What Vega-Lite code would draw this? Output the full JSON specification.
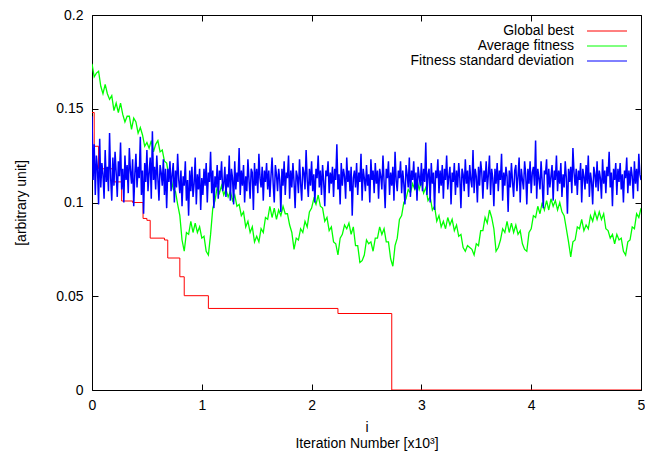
{
"$schema":"https://vega.github.io/schema/vega-lite/v6.json",
"width":549,"height":375,
"autosize":{"type":"none"},
"padding":{"left":92,"top":15,"right":4,"bottom":65},
"background":"white",
"config":{
 "view":{"stroke":"black","strokeWidth":1},
 "axis":{"domain":false,"grid":false,"tickColor":"black","tickWidth":1,"tickSize":-6,"labelFont":"Liberation Sans","labelFontSize":14,"labelColor":"black","titleFont":"Liberation Sans","titleFontSize":14,"titleFontWeight":"normal","titleColor":"black"},
 "legend":{"padding":0,"rowPadding":1,"symbolType":"M-4,0H4","symbolSize":100,"symbolStrokeWidth":1,"symbolOffset":200,"labelOffset":-40,"labelAlign":"right","labelFont":"Liberation Sans","labelFontSize":14,"labelColor":"black","labelLimit":0}
},
"datasets":{
"best":[{"x":0,"y":0.148},{"x":0.02,"y":0.130},{"x":0.06,"y":0.118},{"x":0.20,"y":0.111},{"x":0.27,"y":0.1008},{"x":0.37,"y":0.1000},{"x":0.465,"y":0.0915},{"x":0.50,"y":0.0905},{"x":0.53,"y":0.081},{"x":0.66,"y":0.080},{"x":0.69,"y":0.0704},{"x":0.80,"y":0.0604},{"x":0.84,"y":0.0503},{"x":1.06,"y":0.0435},{"x":2.24,"y":0.0408},{"x":2.73,"y":0},{"x":5,"y":0}],
"avg":[{"x":0,"g":0.174},{"x":0.02,"g":0.167},{"x":0.04,"g":0.169},{"x":0.06,"g":0.170},{"x":0.08,"g":0.162},{"x":0.10,"g":0.158},{"x":0.12,"g":0.163},{"x":0.14,"g":0.158},{"x":0.16,"g":0.155},{"x":0.18,"g":0.157},{"x":0.20,"g":0.149},{"x":0.22,"g":0.153},{"x":0.24,"g":0.148},{"x":0.26,"g":0.153},{"x":0.28,"g":0.147},{"x":0.30,"g":0.143},{"x":0.32,"g":0.146},{"x":0.34,"g":0.146},{"x":0.36,"g":0.139},{"x":0.38,"g":0.145},{"x":0.40,"g":0.143},{"x":0.42,"g":0.137},{"x":0.44,"g":0.140},{"x":0.46,"g":0.136},{"x":0.48,"g":0.130},{"x":0.50,"g":0.132},{"x":0.52,"g":0.129},{"x":0.54,"g":0.133},{"x":0.56,"g":0.127},{"x":0.58,"g":0.131},{"x":0.60,"g":0.133},{"x":0.62,"g":0.127},{"x":0.64,"g":0.128},{"x":0.66,"g":0.122},{"x":0.68,"g":0.121},{"x":0.70,"g":0.114},{"x":0.72,"g":0.113},{"x":0.74,"g":0.107},{"x":0.76,"g":0.106},{"x":0.78,"g":0.099},{"x":0.80,"g":0.093},{"x":0.82,"g":0.080},{"x":0.84,"g":0.074},{"x":0.86,"g":0.084},{"x":0.88,"g":0.083},{"x":0.90,"g":0.090},{"x":0.92,"g":0.084},{"x":0.94,"g":0.089},{"x":0.96,"g":0.084},{"x":0.98,"g":0.087},{"x":1.00,"g":0.081},{"x":1.02,"g":0.082},{"x":1.04,"g":0.074},{"x":1.06,"g":0.072},{"x":1.08,"g":0.083},{"x":1.10,"g":0.097},{"x":1.12,"g":0.101},{"x":1.14,"g":0.108},{"x":1.16,"g":0.105},{"x":1.18,"g":0.109},{"x":1.20,"g":0.104},{"x":1.22,"g":0.107},{"x":1.24,"g":0.103},{"x":1.26,"g":0.106},{"x":1.28,"g":0.101},{"x":1.30,"g":0.104},{"x":1.32,"g":0.098},{"x":1.34,"g":0.099},{"x":1.36,"g":0.093},{"x":1.38,"g":0.095},{"x":1.40,"g":0.087},{"x":1.42,"g":0.090},{"x":1.44,"g":0.084},{"x":1.46,"g":0.087},{"x":1.48,"g":0.079},{"x":1.50,"g":0.082},{"x":1.52,"g":0.079},{"x":1.54,"g":0.086},{"x":1.56,"g":0.084},{"x":1.58,"g":0.092},{"x":1.60,"g":0.091},{"x":1.62,"g":0.098},{"x":1.64,"g":0.092},{"x":1.66,"g":0.097},{"x":1.68,"g":0.091},{"x":1.70,"g":0.096},{"x":1.72,"g":0.093},{"x":1.74,"g":0.098},{"x":1.76,"g":0.094},{"x":1.78,"g":0.094},{"x":1.80,"g":0.088},{"x":1.82,"g":0.084},{"x":1.84,"g":0.075},{"x":1.86,"g":0.081},{"x":1.88,"g":0.080},{"x":1.90,"g":0.086},{"x":1.92,"g":0.084},{"x":1.94,"g":0.090},{"x":1.96,"g":0.087},{"x":1.98,"g":0.095},{"x":2.00,"g":0.097},{"x":2.02,"g":0.102},{"x":2.04,"g":0.099},{"x":2.06,"g":0.104},{"x":2.08,"g":0.098},{"x":2.10,"g":0.097},{"x":2.12,"g":0.090},{"x":2.14,"g":0.092},{"x":2.16,"g":0.085},{"x":2.18,"g":0.087},{"x":2.20,"g":0.079},{"x":2.22,"g":0.078},{"x":2.24,"g":0.072},{"x":2.26,"g":0.081},{"x":2.28,"g":0.083},{"x":2.30,"g":0.088},{"x":2.32,"g":0.086},{"x":2.34,"g":0.089},{"x":2.36,"g":0.083},{"x":2.38,"g":0.087},{"x":2.40,"g":0.077},{"x":2.42,"g":0.077},{"x":2.44,"g":0.068},{"x":2.46,"g":0.069},{"x":2.48,"g":0.072},{"x":2.50,"g":0.080},{"x":2.52,"g":0.078},{"x":2.54,"g":0.079},{"x":2.56,"g":0.074},{"x":2.58,"g":0.081},{"x":2.60,"g":0.081},{"x":2.62,"g":0.087},{"x":2.64,"g":0.083},{"x":2.66,"g":0.086},{"x":2.68,"g":0.079},{"x":2.70,"g":0.079},{"x":2.72,"g":0.070},{"x":2.74,"g":0.066},{"x":2.76,"g":0.077},{"x":2.78,"g":0.081},{"x":2.80,"g":0.091},{"x":2.82,"g":0.093},{"x":2.84,"g":0.100},{"x":2.86,"g":0.102},{"x":2.88,"g":0.107},{"x":2.90,"g":0.105},{"x":2.92,"g":0.110},{"x":2.94,"g":0.107},{"x":2.96,"g":0.112},{"x":2.98,"g":0.107},{"x":3.00,"g":0.111},{"x":3.02,"g":0.105},{"x":3.04,"g":0.108},{"x":3.06,"g":0.101},{"x":3.08,"g":0.103},{"x":3.10,"g":0.096},{"x":3.12,"g":0.098},{"x":3.14,"g":0.090},{"x":3.16,"g":0.093},{"x":3.18,"g":0.087},{"x":3.20,"g":0.090},{"x":3.22,"g":0.086},{"x":3.24,"g":0.092},{"x":3.26,"g":0.088},{"x":3.28,"g":0.091},{"x":3.30,"g":0.085},{"x":3.32,"g":0.088},{"x":3.34,"g":0.082},{"x":3.36,"g":0.083},{"x":3.38,"g":0.076},{"x":3.40,"g":0.074},{"x":3.42,"g":0.077},{"x":3.44,"g":0.076},{"x":3.46,"g":0.075},{"x":3.48,"g":0.072},{"x":3.50,"g":0.078},{"x":3.52,"g":0.077},{"x":3.54,"g":0.085},{"x":3.56,"g":0.085},{"x":3.58,"g":0.092},{"x":3.60,"g":0.089},{"x":3.62,"g":0.096},{"x":3.64,"g":0.092},{"x":3.66,"g":0.086},{"x":3.68,"g":0.074},{"x":3.70,"g":0.076},{"x":3.72,"g":0.080},{"x":3.74,"g":0.086},{"x":3.76,"g":0.084},{"x":3.78,"g":0.090},{"x":3.80,"g":0.084},{"x":3.82,"g":0.089},{"x":3.84,"g":0.084},{"x":3.86,"g":0.088},{"x":3.88,"g":0.083},{"x":3.90,"g":0.085},{"x":3.92,"g":0.078},{"x":3.94,"g":0.075},{"x":3.96,"g":0.074},{"x":3.98,"g":0.084},{"x":4.00,"g":0.086},{"x":4.02,"g":0.093},{"x":4.04,"g":0.092},{"x":4.06,"g":0.098},{"x":4.08,"g":0.094},{"x":4.10,"g":0.100},{"x":4.12,"g":0.096},{"x":4.14,"g":0.101},{"x":4.16,"g":0.096},{"x":4.18,"g":0.102},{"x":4.20,"g":0.098},{"x":4.22,"g":0.101},{"x":4.24,"g":0.096},{"x":4.26,"g":0.100},{"x":4.28,"g":0.095},{"x":4.30,"g":0.093},{"x":4.32,"g":0.086},{"x":4.34,"g":0.079},{"x":4.36,"g":0.071},{"x":4.38,"g":0.079},{"x":4.40,"g":0.080},{"x":4.42,"g":0.087},{"x":4.44,"g":0.086},{"x":4.46,"g":0.091},{"x":4.48,"g":0.085},{"x":4.50,"g":0.088},{"x":4.52,"g":0.086},{"x":4.54,"g":0.093},{"x":4.56,"g":0.090},{"x":4.58,"g":0.095},{"x":4.60,"g":0.091},{"x":4.62,"g":0.095},{"x":4.64,"g":0.091},{"x":4.66,"g":0.094},{"x":4.68,"g":0.086},{"x":4.70,"g":0.085},{"x":4.72,"g":0.081},{"x":4.74,"g":0.083},{"x":4.76,"g":0.078},{"x":4.78,"g":0.083},{"x":4.80,"g":0.080},{"x":4.82,"g":0.081},{"x":4.84,"g":0.074},{"x":4.86,"g":0.072},{"x":4.88,"g":0.079},{"x":4.90,"g":0.080},{"x":4.92,"g":0.087},{"x":4.94,"g":0.086},{"x":4.96,"g":0.094},{"x":4.98,"g":0.092},{"x":5.00,"g":0.097}],
"sd":[{"x":0,"b":0.146},{"x":0.01,"b":0.112},{"x":0.02,"b":0.131},{"x":0.03,"b":0.104},{"x":0.04,"b":0.125},{"x":0.05,"b":0.118},{"x":0.06,"b":0.099},{"x":0.07,"b":0.134},{"x":0.08,"b":0.108},{"x":0.09,"b":0.121},{"x":0.10,"b":0.115},{"x":0.11,"b":0.102},{"x":0.12,"b":0.128},{"x":0.13,"b":0.111},{"x":0.14,"b":0.119},{"x":0.15,"b":0.106},{"x":0.16,"b":0.137},{"x":0.17,"b":0.113},{"x":0.18,"b":0.101},{"x":0.19,"b":0.124},
{"x":0.20,"b":0.109},{"x":0.21,"b":0.127},{"x":0.22,"b":0.116},{"x":0.23,"b":0.103},{"x":0.24,"b":0.122},{"x":0.25,"b":0.114},{"x":0.26,"b":0.132},{"x":0.27,"b":0.107},{"x":0.28,"b":0.118},{"x":0.29,"b":0.100},{"x":0.30,"b":0.125},{"x":0.31,"b":0.112},{"x":0.32,"b":0.120},{"x":0.33,"b":0.105},{"x":0.34,"b":0.129},{"x":0.35,"b":0.117},{"x":0.36,"b":0.110},{"x":0.37,"b":0.123},{"x":0.38,"b":0.098},{"x":0.39,"b":0.115},
{"x":0.40,"b":0.126},{"x":0.41,"b":0.108},{"x":0.42,"b":0.119},{"x":0.43,"b":0.113},{"x":0.44,"b":0.135},{"x":0.45,"b":0.104},{"x":0.46,"b":0.117},{"x":0.47,"b":0.094},{"x":0.48,"b":0.121},{"x":0.49,"b":0.111},{"x":0.50,"b":0.128},{"x":0.51,"b":0.106},{"x":0.52,"b":0.116},{"x":0.53,"b":0.124},{"x":0.54,"b":0.102},{"x":0.55,"b":0.138},{"x":0.56,"b":0.112},{"x":0.57,"b":0.119},{"x":0.58,"b":0.107},{"x":0.59,"b":0.125},
{"x":0.60,"b":0.113},{"x":0.61,"b":0.101},{"x":0.62,"b":0.120},{"x":0.63,"b":0.116},{"x":0.64,"b":0.109},{"x":0.65,"b":0.123},{"x":0.66,"b":0.104},{"x":0.67,"b":0.118},{"x":0.68,"b":0.097},{"x":0.69,"b":0.118},{"x":0.70,"b":0.111},{"x":0.71,"b":0.122},{"x":0.72,"b":0.106},{"x":0.73,"b":0.115},{"x":0.74,"b":0.121},{"x":0.75,"b":0.100},{"x":0.76,"b":0.117},{"x":0.77,"b":0.108},{"x":0.78,"b":0.126},{"x":0.79,"b":0.112},
{"x":0.80,"b":0.105},{"x":0.81,"b":0.117},{"x":0.82,"b":0.098},{"x":0.83,"b":0.114},{"x":0.84,"b":0.109},{"x":0.85,"b":0.122},{"x":0.86,"b":0.101},{"x":0.87,"b":0.112},{"x":0.88,"b":0.093},{"x":0.89,"b":0.117},{"x":0.90,"b":0.106},{"x":0.91,"b":0.119},{"x":0.92,"b":0.103},{"x":0.93,"b":0.110},{"x":0.94,"b":0.124},{"x":0.95,"b":0.099},{"x":0.96,"b":0.115},{"x":0.97,"b":0.107},{"x":0.98,"b":0.118},{"x":0.99,"b":0.096},
{"x":1.00,"b":0.113},{"x":1.01,"b":0.104},{"x":1.02,"b":0.118},{"x":1.03,"b":0.109},{"x":1.04,"b":0.121},{"x":1.05,"b":0.100},{"x":1.06,"b":0.116},{"x":1.07,"b":0.111},{"x":1.08,"b":0.127},{"x":1.09,"b":0.105},{"x":1.10,"b":0.117},{"x":1.11,"b":0.097},{"x":1.12,"b":0.114},{"x":1.13,"b":0.108},{"x":1.14,"b":0.120},{"x":1.15,"b":0.102},{"x":1.16,"b":0.117},{"x":1.17,"b":0.112},{"x":1.18,"b":0.122},{"x":1.19,"b":0.106},
{"x":1.20,"b":0.110},{"x":1.21,"b":0.119},{"x":1.22,"b":0.103},{"x":1.23,"b":0.115},{"x":1.24,"b":0.108},{"x":1.25,"b":0.125},{"x":1.26,"b":0.101},{"x":1.27,"b":0.118},{"x":1.28,"b":0.113},{"x":1.29,"b":0.099},{"x":1.30,"b":0.122},{"x":1.31,"b":0.107},{"x":1.32,"b":0.116},{"x":1.33,"b":0.111},{"x":1.34,"b":0.129},{"x":1.35,"b":0.104},{"x":1.36,"b":0.117},{"x":1.37,"b":0.109},{"x":1.38,"b":0.120},{"x":1.39,"b":0.100},
{"x":1.40,"b":0.114},{"x":1.41,"b":0.106},{"x":1.42,"b":0.123},{"x":1.43,"b":0.112},{"x":1.44,"b":0.102},{"x":1.45,"b":0.118},{"x":1.46,"b":0.116},{"x":1.47,"b":0.096},{"x":1.48,"b":0.121},{"x":1.49,"b":0.109},{"x":1.50,"b":0.118},{"x":1.51,"b":0.105},{"x":1.52,"b":0.126},{"x":1.53,"b":0.113},{"x":1.54,"b":0.108},{"x":1.55,"b":0.119},{"x":1.56,"b":0.101},{"x":1.57,"b":0.117},{"x":1.58,"b":0.111},{"x":1.59,"b":0.121},
{"x":1.60,"b":0.107},{"x":1.61,"b":0.117},{"x":1.62,"b":0.103},{"x":1.63,"b":0.114},{"x":1.64,"b":0.124},{"x":1.65,"b":0.110},{"x":1.66,"b":0.100},{"x":1.67,"b":0.120},{"x":1.68,"b":0.115},{"x":1.69,"b":0.106},{"x":1.70,"b":0.118},{"x":1.71,"b":0.112},{"x":1.72,"b":0.095},{"x":1.73,"b":0.118},{"x":1.74,"b":0.109},{"x":1.75,"b":0.122},{"x":1.76,"b":0.104},{"x":1.77,"b":0.116},{"x":1.78,"b":0.113},{"x":1.79,"b":0.125},
{"x":1.80,"b":0.102},{"x":1.81,"b":0.117},{"x":1.82,"b":0.108},{"x":1.83,"b":0.121},{"x":1.84,"b":0.111},{"x":1.85,"b":0.097},{"x":1.86,"b":0.117},{"x":1.87,"b":0.114},{"x":1.88,"b":0.105},{"x":1.89,"b":0.123},{"x":1.90,"b":0.110},{"x":1.91,"b":0.101},{"x":1.92,"b":0.119},{"x":1.93,"b":0.116},{"x":1.94,"b":0.107},{"x":1.95,"b":0.128},{"x":1.96,"b":0.112},{"x":1.97,"b":0.103},{"x":1.98,"b":0.118},{"x":1.99,"b":0.109},
{"x":2.00,"b":0.122},{"x":2.01,"b":0.106},{"x":2.02,"b":0.115},{"x":2.03,"b":0.100},{"x":2.04,"b":0.118},{"x":2.05,"b":0.113},{"x":2.06,"b":0.125},{"x":2.07,"b":0.108},{"x":2.08,"b":0.117},{"x":2.09,"b":0.104},{"x":2.10,"b":0.120},{"x":2.11,"b":0.111},{"x":2.12,"b":0.098},{"x":2.13,"b":0.117},{"x":2.14,"b":0.114},{"x":2.15,"b":0.122},{"x":2.16,"b":0.105},{"x":2.17,"b":0.116},{"x":2.18,"b":0.110},{"x":2.19,"b":0.119},
{"x":2.20,"b":0.103},{"x":2.21,"b":0.118},{"x":2.22,"b":0.112},{"x":2.23,"b":0.131},{"x":2.24,"b":0.107},{"x":2.25,"b":0.115},{"x":2.26,"b":0.099},{"x":2.27,"b":0.121},{"x":2.28,"b":0.109},{"x":2.29,"b":0.118},{"x":2.30,"b":0.114},{"x":2.31,"b":0.102},{"x":2.32,"b":0.124},{"x":2.33,"b":0.111},{"x":2.34,"b":0.117},{"x":2.35,"b":0.106},{"x":2.36,"b":0.119},{"x":2.37,"b":0.093},{"x":2.38,"b":0.113},{"x":2.39,"b":0.117},
{"x":2.40,"b":0.108},{"x":2.41,"b":0.121},{"x":2.42,"b":0.104},{"x":2.43,"b":0.116},{"x":2.44,"b":0.111},{"x":2.45,"b":0.126},{"x":2.46,"b":0.101},{"x":2.47,"b":0.118},{"x":2.48,"b":0.113},{"x":2.49,"b":0.106},{"x":2.50,"b":0.120},{"x":2.51,"b":0.109},{"x":2.52,"b":0.115},{"x":2.53,"b":0.100},{"x":2.54,"b":0.123},{"x":2.55,"b":0.112},{"x":2.56,"b":0.117},{"x":2.57,"b":0.105},{"x":2.58,"b":0.121},{"x":2.59,"b":0.110},
{"x":2.60,"b":0.117},{"x":2.61,"b":0.102},{"x":2.62,"b":0.118},{"x":2.63,"b":0.114},{"x":2.64,"b":0.107},{"x":2.65,"b":0.125},{"x":2.66,"b":0.111},{"x":2.67,"b":0.097},{"x":2.68,"b":0.118},{"x":2.69,"b":0.113},{"x":2.70,"b":0.122},{"x":2.71,"b":0.104},{"x":2.72,"b":0.116},{"x":2.73,"b":0.109},{"x":2.74,"b":0.119},{"x":2.75,"b":0.101},{"x":2.76,"b":0.127},{"x":2.77,"b":0.112},{"x":2.78,"b":0.106},{"x":2.79,"b":0.117},
{"x":2.80,"b":0.113},{"x":2.81,"b":0.122},{"x":2.82,"b":0.105},{"x":2.83,"b":0.117},{"x":2.84,"b":0.110},{"x":2.85,"b":0.099},{"x":2.86,"b":0.120},{"x":2.87,"b":0.115},{"x":2.88,"b":0.108},{"x":2.89,"b":0.124},{"x":2.90,"b":0.103},{"x":2.91,"b":0.117},{"x":2.92,"b":0.112},{"x":2.93,"b":0.122},{"x":2.94,"b":0.107},{"x":2.95,"b":0.116},{"x":2.96,"b":0.101},{"x":2.97,"b":0.119},{"x":2.98,"b":0.114},{"x":2.99,"b":0.109},
{"x":3.00,"b":0.121},{"x":3.01,"b":0.106},{"x":3.02,"b":0.118},{"x":3.03,"b":0.111},{"x":3.04,"b":0.132},{"x":3.05,"b":0.104},{"x":3.06,"b":0.115},{"x":3.07,"b":0.118},{"x":3.08,"b":0.100},{"x":3.09,"b":0.121},{"x":3.10,"b":0.110},{"x":3.11,"b":0.116},{"x":3.12,"b":0.096},{"x":3.13,"b":0.117},{"x":3.14,"b":0.113},{"x":3.15,"b":0.123},{"x":3.16,"b":0.105},{"x":3.17,"b":0.117},{"x":3.18,"b":0.109},{"x":3.19,"b":0.120},
{"x":3.20,"b":0.102},{"x":3.21,"b":0.118},{"x":3.22,"b":0.112},{"x":3.23,"b":0.125},{"x":3.24,"b":0.107},{"x":3.25,"b":0.114},{"x":3.26,"b":0.119},{"x":3.27,"b":0.099},{"x":3.28,"b":0.116},{"x":3.29,"b":0.111},{"x":3.30,"b":0.121},{"x":3.31,"b":0.104},{"x":3.32,"b":0.117},{"x":3.33,"b":0.108},{"x":3.34,"b":0.121},{"x":3.35,"b":0.113},{"x":3.36,"b":0.097},{"x":3.37,"b":0.118},{"x":3.38,"b":0.115},{"x":3.39,"b":0.106},
{"x":3.40,"b":0.123},{"x":3.41,"b":0.110},{"x":3.42,"b":0.117},{"x":3.43,"b":0.103},{"x":3.44,"b":0.120},{"x":3.45,"b":0.112},{"x":3.46,"b":0.108},{"x":3.47,"b":0.128},{"x":3.48,"b":0.105},{"x":3.49,"b":0.118},{"x":3.50,"b":0.114},{"x":3.51,"b":0.100},{"x":3.52,"b":0.119},{"x":3.53,"b":0.109},{"x":3.54,"b":0.122},{"x":3.55,"b":0.116},{"x":3.56,"b":0.102},{"x":3.57,"b":0.117},{"x":3.58,"b":0.111},{"x":3.59,"b":0.122},
{"x":3.60,"b":0.107},{"x":3.61,"b":0.115},{"x":3.62,"b":0.125},{"x":3.63,"b":0.104},{"x":3.64,"b":0.118},{"x":3.65,"b":0.113},{"x":3.66,"b":0.098},{"x":3.67,"b":0.118},{"x":3.68,"b":0.110},{"x":3.69,"b":0.121},{"x":3.70,"b":0.106},{"x":3.71,"b":0.117},{"x":3.72,"b":0.112},{"x":3.73,"b":0.126},{"x":3.74,"b":0.101},{"x":3.75,"b":0.116},{"x":3.76,"b":0.109},{"x":3.77,"b":0.119},{"x":3.78,"b":0.114},{"x":3.79,"b":0.095},
{"x":3.80,"b":0.117},{"x":3.81,"b":0.108},{"x":3.82,"b":0.121},{"x":3.83,"b":0.111},{"x":3.84,"b":0.103},{"x":3.85,"b":0.117},{"x":3.86,"b":0.120},{"x":3.87,"b":0.106},{"x":3.88,"b":0.114},{"x":3.89,"b":0.124},{"x":3.90,"b":0.100},{"x":3.91,"b":0.118},{"x":3.92,"b":0.112},{"x":3.93,"b":0.107},{"x":3.94,"b":0.122},{"x":3.95,"b":0.115},{"x":3.96,"b":0.099},{"x":3.97,"b":0.118},{"x":3.98,"b":0.110},{"x":3.99,"b":0.122},
{"x":4.00,"b":0.105},{"x":4.01,"b":0.116},{"x":4.02,"b":0.119},{"x":4.03,"b":0.109},{"x":4.04,"b":0.133},{"x":4.05,"b":0.102},{"x":4.06,"b":0.118},{"x":4.07,"b":0.113},{"x":4.08,"b":0.107},{"x":4.09,"b":0.122},{"x":4.10,"b":0.111},{"x":4.11,"b":0.097},{"x":4.12,"b":0.117},{"x":4.13,"b":0.115},{"x":4.14,"b":0.123},{"x":4.15,"b":0.104},{"x":4.16,"b":0.118},{"x":4.17,"b":0.108},{"x":4.18,"b":0.114},{"x":4.19,"b":0.120},
{"x":4.20,"b":0.101},{"x":4.21,"b":0.117},{"x":4.22,"b":0.112},{"x":4.23,"b":0.125},{"x":4.24,"b":0.106},{"x":4.25,"b":0.117},{"x":4.26,"b":0.110},{"x":4.27,"b":0.121},{"x":4.28,"b":0.103},{"x":4.29,"b":0.115},{"x":4.30,"b":0.108},{"x":4.31,"b":0.122},{"x":4.32,"b":0.113},{"x":4.33,"b":0.094},{"x":4.34,"b":0.118},{"x":4.35,"b":0.111},{"x":4.36,"b":0.119},{"x":4.37,"b":0.105},{"x":4.38,"b":0.129},{"x":4.39,"b":0.116},
{"x":4.40,"b":0.109},{"x":4.41,"b":0.118},{"x":4.42,"b":0.104},{"x":4.43,"b":0.117},{"x":4.44,"b":0.112},{"x":4.45,"b":0.121},{"x":4.46,"b":0.100},{"x":4.47,"b":0.118},{"x":4.48,"b":0.114},{"x":4.49,"b":0.107},{"x":4.50,"b":0.120},{"x":4.51,"b":0.110},{"x":4.52,"b":0.125},{"x":4.53,"b":0.103},{"x":4.54,"b":0.116},{"x":4.55,"b":0.111},{"x":4.56,"b":0.099},{"x":4.57,"b":0.119},{"x":4.58,"b":0.115},{"x":4.59,"b":0.108},
{"x":4.60,"b":0.122},{"x":4.61,"b":0.106},{"x":4.62,"b":0.117},{"x":4.63,"b":0.113},{"x":4.64,"b":0.102},{"x":4.65,"b":0.123},{"x":4.66,"b":0.110},{"x":4.67,"b":0.117},{"x":4.68,"b":0.105},{"x":4.69,"b":0.119},{"x":4.70,"b":0.114},{"x":4.71,"b":0.127},{"x":4.72,"b":0.108},{"x":4.73,"b":0.116},{"x":4.74,"b":0.098},{"x":4.75,"b":0.118},{"x":4.76,"b":0.112},{"x":4.77,"b":0.121},{"x":4.78,"b":0.104},{"x":4.79,"b":0.118},
{"x":4.80,"b":0.111},{"x":4.81,"b":0.121},{"x":4.82,"b":0.107},{"x":4.83,"b":0.115},{"x":4.84,"b":0.100},{"x":4.85,"b":0.117},{"x":4.86,"b":0.113},{"x":4.87,"b":0.124},{"x":4.88,"b":0.105},{"x":4.89,"b":0.117},{"x":4.90,"b":0.109},{"x":4.91,"b":0.119},{"x":4.92,"b":0.114},{"x":4.93,"b":0.102},{"x":4.94,"b":0.122},{"x":4.95,"b":0.110},{"x":4.96,"b":0.118},{"x":4.97,"b":0.106},{"x":4.98,"b":0.126},{"x":4.99,"b":0.115},{"x":5.00,"b":0.112}]
},
"resolve":{"axis":{"x":"independent","y":"independent"}},
"layer":[
 {"data":{"name":"best"},
  "mark":{"type":"line","interpolate":"step-after","strokeWidth":1,"clip":true},
  "encoding":{
   "x":{"field":"x","type":"quantitative","scale":{"domain":[0,5],"nice":false,"zero":false},
        "axis":{"orient":"bottom","values":[0,1,2,3,4,5],"format":"d","labelPadding":14,"labelFlush":false,"title":["i","Iteration Number [x10³]"],"titlePadding":8,"titleLineHeight":16}},
   "y":{"field":"y","type":"quantitative","scale":{"domain":[0,0.2],"nice":false},
        "axis":{"orient":"left","values":[0,0.05,0.1,0.15,0.2],"format":"~g","labelPadding":15,"labelFlush":false,"title":"[arbitrary unit]","titlePadding":27}},
   "color":{"datum":"Global best","scale":{"domain":["Global best","Average fitness","Fitness standard deviation"],"range":["#ff0000","#00ff00","#0000ff"]},
            "legend":{"title":null,"orient":"none","legendX":308,"legendY":9}}
  }},
 {"data":{"name":"avg"},
  "mark":{"type":"line","strokeWidth":1.3,"clip":true},
  "encoding":{
   "x":{"field":"x","type":"quantitative","axis":null},
   "y":{"field":"g","type":"quantitative","axis":null},
   "color":{"datum":"Average fitness"}
  }},
 {"data":{"name":"sd"},
  "mark":{"type":"line","strokeWidth":1.5,"clip":true},
  "encoding":{
   "x":{"field":"x","type":"quantitative","axis":null},
   "y":{"field":"b","type":"quantitative","axis":null},
   "color":{"datum":"Fitness standard deviation"}
  }},
 {"data":{"name":"best"},
  "mark":{"type":"point","opacity":0},
  "encoding":{
   "x":{"field":"x","type":"quantitative","axis":{"orient":"top","values":[0,1,2,3,4,5],"labels":false,"title":null}},
   "y":{"field":"y","type":"quantitative","axis":{"orient":"right","values":[0,0.05,0.1,0.15,0.2],"labels":false,"title":null}}
  }}
]
}
